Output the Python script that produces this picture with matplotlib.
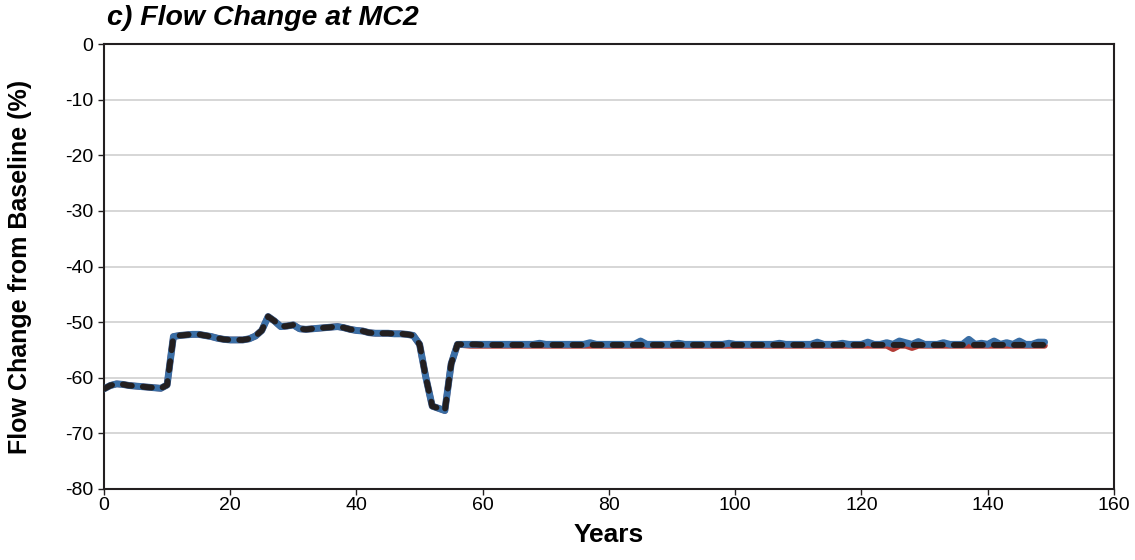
import numpy as np
import matplotlib
matplotlib.use('Agg')
import matplotlib.pyplot as plt

plt.rcParams['font.family'] = ['Liberation Sans', 'DejaVu Sans']
plt.rcParams['axes.unicode_minus'] = False

years = list(range(150))

# shared first part (years 0-56)
head = [-62.0, -61.4, -61.1, -61.2, -61.4, -61.5, -61.6, -61.7, -61.8, -61.9,
        -61.3, -52.6, -52.4, -52.3, -52.2, -52.2, -52.4, -52.6, -52.9, -53.1,
        -53.2, -53.2, -53.2, -53.0, -52.5, -51.5, -49.0, -49.8, -50.8, -50.7,
        -50.5, -51.2, -51.3, -51.2, -51.1, -51.0, -50.9, -50.8, -51.0, -51.3,
        -51.5, -51.6, -51.9, -52.0, -52.0, -52.0, -52.1, -52.1, -52.2, -52.4,
        -54.0, -60.0, -65.1, -65.5, -65.9, -57.5, -54.0]

# years 57-149
black_tail = [-54.0, -54.0, -54.0, -54.1, -54.1, -54.1, -54.1, -54.1, -54.1, -54.1,
              -54.1, -54.1, -54.1, -54.1, -54.1, -54.1, -54.1, -54.1, -54.1, -54.1,
              -54.1, -54.1, -54.1, -54.1, -54.1, -54.1, -54.1, -54.1, -54.1, -54.1,
              -54.1, -54.1, -54.1, -54.1, -54.1, -54.1, -54.1, -54.1, -54.1, -54.1,
              -54.1, -54.1, -54.1, -54.1, -54.1, -54.1, -54.1, -54.1, -54.1, -54.1,
              -54.1, -54.1, -54.1, -54.1, -54.1, -54.1, -54.1, -54.1, -54.1, -54.1,
              -54.1, -54.1, -54.1, -54.1, -54.1, -54.1, -54.1, -54.1, -54.1, -54.1,
              -54.1, -54.1, -54.1, -54.1, -54.1, -54.1, -54.1, -54.1, -54.1, -54.1,
              -54.1, -54.1, -54.1, -54.1, -54.1, -54.1, -54.1, -54.1, -54.1, -54.1,
              -54.1, -54.1, -54.1]

blue_tail = [-54.0, -54.0, -54.0, -54.0, -54.0, -54.0, -54.0, -54.0, -54.0, -54.0,
             -54.0, -54.0, -53.8, -54.0, -54.0, -54.0, -54.0, -54.0, -54.0, -54.0,
             -53.7, -54.0, -54.0, -54.0, -54.0, -54.0, -54.0, -54.0, -53.4, -54.0,
             -54.0, -54.0, -54.0, -54.0, -53.8, -54.0, -54.0, -54.0, -54.0, -54.0,
             -54.0, -54.0, -53.8, -54.0, -54.0, -54.0, -54.0, -54.0, -54.0, -54.0,
             -53.8, -54.0, -54.0, -54.0, -54.0, -54.0, -53.6, -54.0, -54.0, -54.0,
             -53.8, -54.0, -54.0, -54.0, -53.6, -54.0, -54.0, -53.7, -54.0, -53.4,
             -53.7, -54.0, -53.5, -54.0, -54.0, -54.0, -53.7, -54.0, -54.0, -54.0,
             -53.1, -54.0, -53.8, -54.0, -53.4, -54.0, -53.7, -54.0, -53.4, -54.0,
             -54.0, -53.6, -53.6]

red_tail = [-54.1, -54.2, -54.2, -54.2, -54.2, -54.2, -54.2, -54.2, -54.2, -54.2,
            -54.2, -54.2, -54.2, -54.2, -54.2, -54.2, -54.2, -54.2, -54.2, -54.2,
            -54.2, -54.2, -54.2, -54.2, -54.2, -54.2, -54.2, -54.2, -54.2, -54.2,
            -54.2, -54.2, -54.2, -54.2, -54.2, -54.2, -54.2, -54.2, -54.2, -54.2,
            -54.2, -54.2, -54.2, -54.2, -54.2, -54.2, -54.2, -54.2, -54.2, -54.2,
            -54.2, -54.2, -54.2, -54.2, -54.2, -54.2, -54.2, -54.2, -54.2, -54.2,
            -54.2, -54.2, -54.2, -54.2, -54.2, -54.2, -54.2, -54.2, -54.8, -54.2,
            -54.2, -54.6, -54.2, -54.2, -54.2, -54.2, -54.2, -54.2, -54.2, -54.2,
            -54.2, -54.2, -54.2, -54.2, -54.2, -54.2, -54.2, -54.2, -54.2, -54.2,
            -54.2, -54.2, -54.2]

black = head + black_tail
blue = head + blue_tail
red = head + red_tail

y_ticks = [0, -10, -20, -30, -40, -50, -60, -70, -80]
x_ticks = [0, 20, 40, 60, 80, 100, 120, 140, 160]


def main():

    fig = plt.figure(figsize=(11.35, 5.6), dpi=100)
    ax = fig.add_axes([0.0916, 0.1268, 0.8899, 0.7946])

    ax.plot(years, red, color='#b23b35', linewidth=4.6, solid_capstyle='round',
            solid_joinstyle='round', zorder=3)
    ax.plot(years, blue, color='#3a6ea5', linewidth=5.0, solid_capstyle='round',
            solid_joinstyle='round', zorder=4)
    ax.plot(years, black, color='#231f20', linewidth=4.3, dashes=(1.5, 1.86),
            dash_capstyle='round', dash_joinstyle='round', zorder=5)

    ax.set_xlim(0, 160)
    ax.set_ylim(-80, 0)
    ax.set_xticks(x_ticks)
    ax.set_yticks(y_ticks)
    ax.grid(axis='y', color='#d0d0d0', linewidth=1.2)
    ax.set_axisbelow(True)

    for s in ax.spines.values():
        s.set_color('#231f20')
        s.set_linewidth(1.5)

    ax.tick_params(axis='both', direction='out', length=4, width=1, colors='#231f20',
                   labelsize=14, labelcolor='black')
    ax.tick_params(axis='x', pad=2)

    ax.set_xlabel('Years', fontsize=19, fontweight='bold', labelpad=6)
    ax.set_ylabel('Flow Change from Baseline (%)', fontsize=18, fontweight='bold', labelpad=24)
    fig.text(0.094, 0.968, 'c) Flow Change at MC2', fontsize=20.5, fontweight='bold',
             fontstyle='italic', ha='left', va='center')

    fig.savefig('out.png', dpi=100)


if __name__ == '__main__':
    main()
